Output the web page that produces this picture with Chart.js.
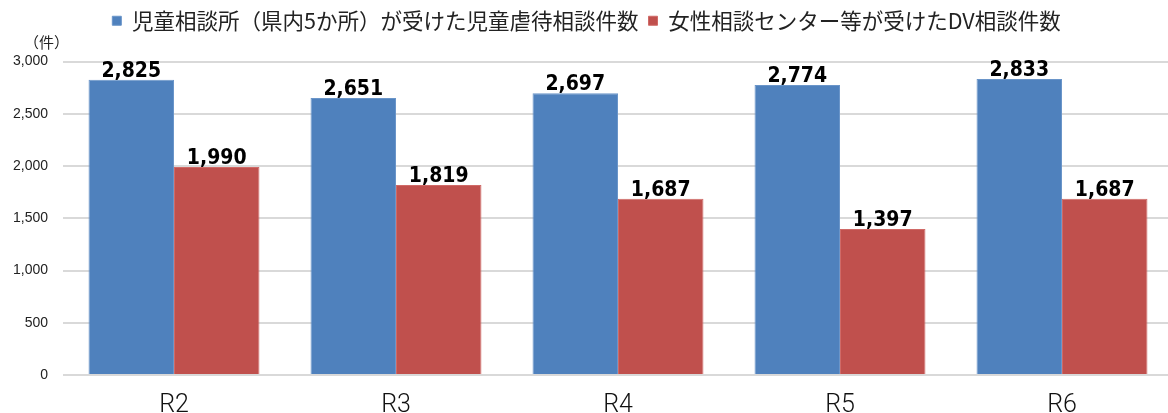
<!DOCTYPE html>
<html><head><meta charset="utf-8">
<script src="https://cdn.jsdelivr.net/npm/chart.js@4.4.1/dist/chart.umd.min.js"></script>
<style>html,body{margin:0;padding:0;overflow:hidden;background:#fff}#wrap{width:1173px;height:413px}</style>
</head><body><div id="wrap"><canvas id="c" width="1173" height="413"></canvas></div>
<script>
const categories = ['R2','R3','R4','R5','R6'];
const seriesNames = ['児童相談所（県内5か所）が受けた児童虐待相談件数','女性相談センター等が受けたDV相談件数'];
const childAbuse = [2825, 2651, 2697, 2774, 2833];
const dvCases = [1990, 1819, 1687, 1397, 1687];
const yTicks = [0, 500, 1000, 1500, 2000, 2500, 3000];
const unitLabel = '（件）';

const labelPlugin = {
  id: 'valLabels',
  afterInit(chart) {
    const lg = chart.legend;
    if (lg) {
      const f = lg.fit;
      lg.fit = function () { f.call(this); this.height += 20; };
    }
  },
  afterDatasetsDraw(chart) {
    const ctx = chart.ctx;
    ctx.save();
    ctx.font = 'bold 21px "DejaVu Sans Condensed","Liberation Sans Narrow",Arial,sans-serif';
    ctx.fillStyle = '#000';
    ctx.textAlign = 'center';
    ctx.textBaseline = 'bottom';
    chart.data.datasets.forEach((ds, i) => {
      chart.getDatasetMeta(i).data.forEach((bar, j) => {
        ctx.fillText(ds.data[j].toLocaleString('en-US'), bar.x, bar.y + 2);
      });
    });
    ctx.font = '15px "Noto Sans CJK JP",sans-serif';
    ctx.fillStyle = '#222';
    ctx.textAlign = 'left';
    ctx.textBaseline = 'middle';
    ctx.fillText(unitLabel, 24, 42);
    ctx.restore();
  }
};

new Chart(document.getElementById('c'), {
  type: 'bar',
  data: {
    labels: categories,
    datasets: [
      { label: seriesNames[0], data: childAbuse, backgroundColor: '#4F81BD', borderColor: '#6a95c9', borderWidth: 1 },
      { label: seriesNames[1], data: dvCases, backgroundColor: '#C0504D', borderColor: '#d06a67', borderWidth: 1 }
    ]
  },
  options: {
    responsive: false,
    animation: false,
    layout: { padding: { top: 0, right: 0, left: 0, bottom: 0 } },
    plugins: {
      legend: {
        position: 'top',
        labels: {
          boxWidth: 9, boxHeight: 9, padding: 10,
          color: '#222',
          font: { size: 21.5, family: '"Noto Sans CJK JP",sans-serif' }
        }
      },
      tooltip: { enabled: false }
    },
    datasets: { bar: { categoryPercentage: 0.77, barPercentage: 1.0 } },
    scales: {
      x: {
        grid: { display: false },
        border: { display: false },
        ticks: { color: '#111', font: { size: 25, family: 'Roboto,"Liberation Sans",sans-serif', weight: '300' }, padding: 8 },
        afterFit(s) { s.height = 38; }
      },
      y: {
        min: 0, max: 3000,
        afterBuildTicks(s) { s.ticks = yTicks.map(v => ({ value: v })); },
        grid: { color: '#d9d9d9', lineWidth: 2, drawTicks: false },
        border: { display: false },
        ticks: {
          color: '#222', padding: 15,
          font: { size: 14, family: '"Liberation Sans",Arial,sans-serif' },
          callback: v => v.toLocaleString('en-US')
        },
        afterFit(s) { s.width = 63; }
      }
    }
  },
  plugins: [labelPlugin]
});
</script></body></html>
